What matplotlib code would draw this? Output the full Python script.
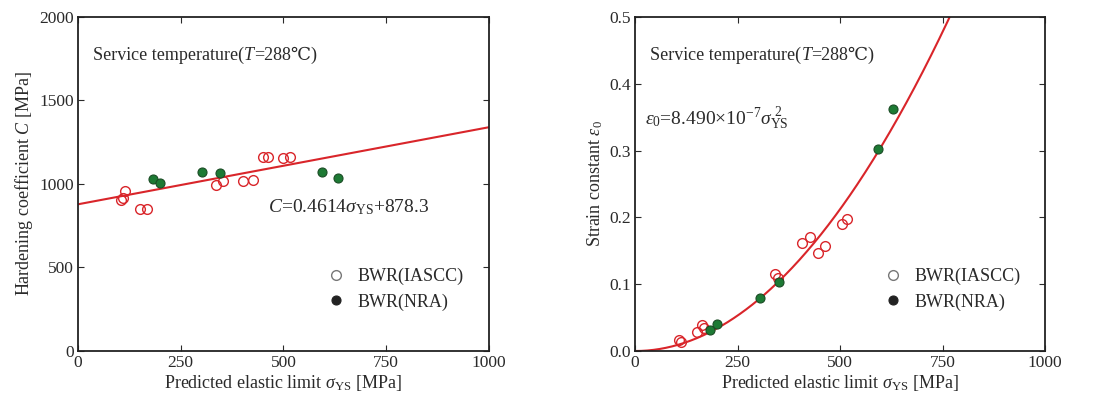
import numpy as np
import matplotlib
matplotlib.use("Agg")
import matplotlib.pyplot as plt

plt.rcParams['font.family'] = ['Liberation Serif', 'DejaVu Serif']
plt.rcParams['mathtext.fontset'] = 'custom'
plt.rcParams['mathtext.rm'] = 'Liberation Serif'
plt.rcParams['mathtext.it'] = 'Liberation Serif:italic'

# Hardening coefficient C vs predicted elastic limit
iascc_sy_c = [105, 110, 115, 151, 167, 337, 352, 402, 426, 451, 463, 500, 516]
iascc_c = [905, 918, 955, 848, 848, 994, 1020, 1018, 1024, 1163, 1163, 1156, 1163]
nra_sy_c = [183, 200, 301, 345, 593, 633]
nra_c = [1030, 1004, 1074, 1068, 1074, 1038]

# Strain constant eps0 vs predicted elastic limit
iascc_sy_e = [106, 112, 150, 163, 168, 341, 349, 406, 427, 447, 463, 504, 516]
iascc_e = [0.016, 0.013, 0.029, 0.039, 0.035, 0.116, 0.110, 0.161, 0.171, 0.146, 0.157, 0.190, 0.197]
nra_sy_e = [183, 199, 305, 350, 593, 630]
nra_e = [0.031, 0.041, 0.080, 0.104, 0.303, 0.362]

# Fit coefficients
c_slope, c_icept = 0.4614, 878.3
e_coef = 8.490e-7

x_ticks = [0, 250, 500, 750, 1000]
c_ticks = [0, 500, 1000, 1500, 2000]
e_ticks = [0.0, 0.1, 0.2, 0.3, 0.4, 0.5]
e_tick_labels = ['0.0', '0.1', '0.2', '0.3', '0.4', '0.5']

red = '#d9252a'
green = '#1d7a34'
txt = '#2a2a2a'

fig = plt.figure(figsize=(10.95, 4.03), dpi=100)
ax1 = fig.add_axes([0.0712, 0.129, 0.3753, 0.829])
ax2 = fig.add_axes([0.580, 0.129, 0.3744, 0.829])


def style(ax):
    ax.tick_params(direction='in', top=True, right=True, labelsize=12.5,
                   colors=txt, length=4, width=0.8, pad=3)
    for s in ax.spines.values():
        s.set_linewidth(1.3)
        s.set_color('#222222')
    ax.set_xlim(0, 1000)
    ax.set_xticks(x_ticks)
    ax.set_xlabel(r'Predicted elastic limit $\sigma_{\rm YS}$ [MPa]', fontsize=13,
                  color=txt, labelpad=1)


def temperature_note(ax, x, y):
    # "Service temperature(T=288℃)" with an italic T, drawn piece by piece
    kw = dict(fontsize=13, color=txt, va='bottom')
    t = ax.text(x, y, 'Service temperature(', **kw)
    for piece, style_ in (('T', 'italic'), ('=288℃)', 'normal')):
        t = ax.annotate(piece, xy=(1, 0), xycoords=t, fontstyle=style_, **kw)


def add_legend(ax):
    leg = ax.legend(loc='center left', bbox_to_anchor=(0.562, 0.185), frameon=False,
                    fontsize=13, handletextpad=0.6, labelspacing=0.45, handlelength=1.2)
    for t in leg.get_texts():
        t.set_color(txt)
    leg.legend_handles[0].set_markeredgecolor('#777777')
    leg.legend_handles[1].set_markerfacecolor('#222222')
    leg.legend_handles[1].set_markeredgecolor('#222222')


xs = np.linspace(0, 1000, 400)

# Left panel
style(ax1)
ax1.set_ylim(0, 2000)
ax1.set_yticks(c_ticks)
ax1.plot(xs, c_slope * xs + c_icept, color=red, lw=1.5, zorder=2)
ax1.plot(iascc_sy_c, iascc_c, 'o', ms=7, mfc='none', mec=red, mew=1.0,
         label='BWR(IASCC)', zorder=3)
ax1.plot(nra_sy_c, nra_c, 'o', ms=6.5, mfc=green, mec='#1b4d26', mew=0.8,
         label='BWR(NRA)', zorder=3)
ax1.set_ylabel(r'Hardening coefficient $C$ [MPa]', fontsize=13, color=txt, labelpad=3)
temperature_note(ax1, 37, 1720)
ax1.text(462, 862, r'$C$=0.4614$\sigma_{\rm YS}$+878.3', fontsize=14, color=txt, va='center')
add_legend(ax1)

# Right panel
style(ax2)
ax2.set_ylim(0, 0.5)
ax2.set_yticks(e_ticks)
ax2.set_yticklabels(e_tick_labels)
ax2.plot(xs, e_coef * xs ** 2, color=red, lw=1.5, zorder=2)
ax2.plot(iascc_sy_e, iascc_e, 'o', ms=7, mfc='none', mec=red, mew=1.0,
         label='BWR(IASCC)', zorder=3)
ax2.plot(nra_sy_e, nra_e, 'o', ms=6.5, mfc=green, mec='#1b4d26', mew=0.8,
         label='BWR(NRA)', zorder=3)
ax2.set_ylabel(r'Strain constant $\varepsilon_0$', fontsize=13, color=txt, labelpad=3)
temperature_note(ax2, 37, 0.430)
ax2.text(24, 0.348, r'$\varepsilon_0$=8.490×10$^{-7}$$\sigma_{\rm YS}^{\ 2}$', fontsize=14,
         color=txt, va='center')
add_legend(ax2)

fig.savefig('out.png', dpi=100)
